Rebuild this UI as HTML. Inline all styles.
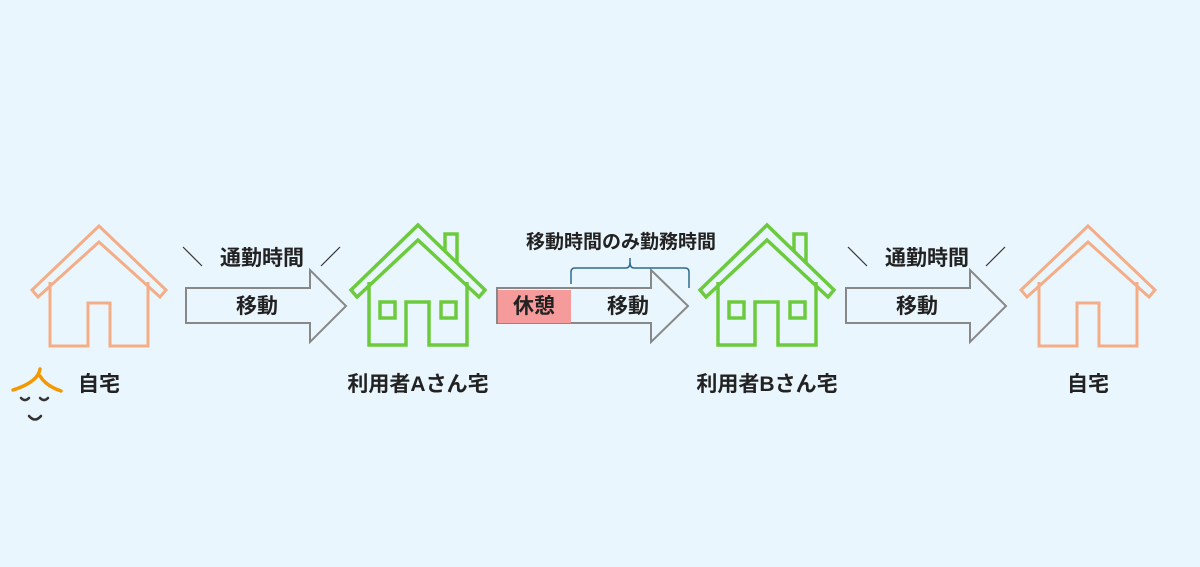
<!DOCTYPE html>
<html><head><meta charset="utf-8"><style>
html,body{margin:0;padding:0;background:#eaf6fd;}
svg{display:block}
text{font-family:"Liberation Sans","Noto Sans CJK JP",sans-serif;font-weight:bold;fill:#222;}
</style></head><body>
<svg width="1200" height="567" viewBox="0 0 1200 567" xmlns="http://www.w3.org/2000/svg">
<rect width="1200" height="567" fill="#eaf6fd"/>
<defs>
<g id="oh" fill="none" stroke="#f4ad87" stroke-width="3">
<polygon points="0,226 67,290 61,297 0,242 -61,297 -67,290"/>
<polyline points="-49,282 -49,346 -11,346 -11,303 11,303 11,346 49,346 49,282"/>
</g>
<g id="gh" fill="none" stroke="#6ccb3d" stroke-width="3.5">
<polygon points="0,225 67,290 61,297 0,240 -61,297 -67,290"/>
<polyline points="27,251 27,234 39,234 39,262"/>
<polyline points="-49,282 -49,345 -12,345 -12,302 11,302 11,345 49,345 49,282"/>
<rect x="-38" y="302" width="15" height="16"/>
<rect x="23" y="302" width="15" height="16"/>
</g>
<polygon id="ar" points="0,288 124,288 124,270 160,306 124,342 124,323 0,323" fill="none" stroke="#888" stroke-width="2"/>
</defs>
<use href="#oh" x="99"/>
<use href="#oh" x="1088"/>
<use href="#gh" x="418"/>
<use href="#gh" x="767"/>
<use href="#ar" x="186"/>
<use href="#ar" x="846"/>
<polygon points="497,288 651,288 651,270 688,306 651,342 651,323 497,323" fill="none" stroke="#888" stroke-width="2"/>
<rect x="498" y="290" width="73" height="33" fill="#f59b9b"/>
<path d="M571,284 V272 Q571,268 575,268 H626 Q630,268 630,262 V258 M630,258 V262 Q630,268 634,268 H685 Q689,268 689,272 V288" fill="none" stroke="#2d6a8e" stroke-width="1.5"/>
<text x="621" y="248" font-size="19" text-anchor="middle">移動時間のみ勤務時間</text>
<text x="534" y="313" font-size="21" text-anchor="middle">休憩</text>
<text x="628" y="313" font-size="21" text-anchor="middle">移動</text>
<text x="257" y="313" font-size="21" text-anchor="middle">移動</text>
<text x="917" y="313" font-size="21" text-anchor="middle">移動</text>
<g stroke="#333" stroke-width="1.2">
<line x1="183" y1="247" x2="202" y2="266"/><line x1="321" y1="266" x2="340" y2="247"/>
<line x1="848" y1="247" x2="867" y2="266"/><line x1="986" y1="266" x2="1005" y2="247"/>
</g>
<text x="262" y="265" font-size="21" text-anchor="middle">通勤時間</text>
<text x="927" y="265" font-size="21" text-anchor="middle">通勤時間</text>
<text x="99" y="391" font-size="21" text-anchor="middle">自宅</text>
<text x="1088" y="391" font-size="21" text-anchor="middle">自宅</text>
<text x="418" y="391" font-size="21" text-anchor="middle">利用者Aさん宅</text>
<text x="767" y="391" font-size="21" text-anchor="middle">利用者Bさん宅</text>
<g fill="none" stroke-linecap="round">
<path d="M40,369 Q38,382 13,390 M40,376 Q46,386 61,391" stroke="#f39800" stroke-width="3.5"/>
<path d="M21,398 Q25,402 29,398 M40,398 Q44,402 48,398 M29,416 Q35,423 41,416" stroke="#333" stroke-width="2.5"/>
</g>
</svg>
</body></html>
